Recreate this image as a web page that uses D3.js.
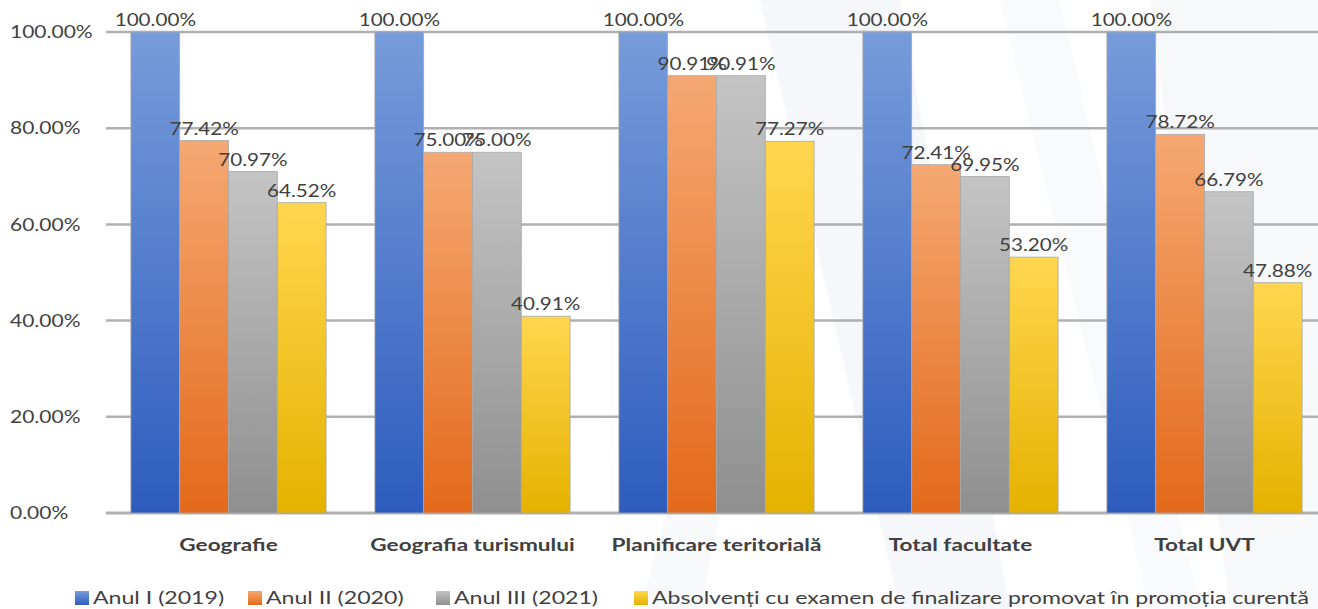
<!DOCTYPE html>
<html><head><meta charset="utf-8">
<script src="https://cdn.jsdelivr.net/npm/d3@7"></script>
<style>
html,body{margin:0;padding:0;background:#fff;}
svg{display:block;font-family:Lato,"Open Sans",sans-serif;}
</style></head>
<body>
<svg id="chart" width="1318" height="609"></svg>
<script>
const categories = ["Geografie","Geografia turismului","Planificare teritorială","Total facultate","Total UVT"];
const seriesNames = ["Anul I (2019)","Anul II (2020)","Anul III (2021)","Absolvenți cu examen de finalizare promovat în promoția curentă"];
const anulI   = [100.00, 100.00, 100.00, 100.00, 100.00];
const anulII  = [77.42, 75.00, 90.91, 72.41, 78.72];
const anulIII = [70.97, 75.00, 90.91, 69.95, 66.79];
const absolventi = [64.52, 40.91, 77.27, 53.20, 47.88];
const yTicks = [0, 20, 40, 60, 80, 100];
const seriesValues = [anulI, anulII, anulIII, absolventi];

const colorsTop = ["#779cdb","#f5a872","#c4c4c4","#ffd64f"];
const colorsBot = ["#2d5cbd","#e3691a","#8f8f8f","#e5b200"];

const svg = d3.select("#chart");
const defs = svg.append("defs");
colorsTop.forEach((c,i)=>{
  const g = defs.append("linearGradient").attr("id","g"+i).attr("x1",0).attr("y1",0).attr("x2",0).attr("y2",1);
  g.append("stop").attr("offset","0%").attr("stop-color",c);
  g.append("stop").attr("offset","100%").attr("stop-color",colorsBot[i]);
});

// faint background watermark shapes
const wm = svg.append("g").attr("opacity",0.5);
wm.append("path").attr("d","M760,0 L900,0 L1010,609 L900,609 Z").attr("fill","#eef1f6");
wm.append("path").attr("d","M1150,0 L1318,0 L1318,609 L1230,609 Z").attr("fill","#f1f3f7");
wm.append("path").attr("d","M640,609 L760,180 L790,180 L700,609 Z").attr("fill","#f3f5f8");
wm.append("path").attr("d","M1000,0 L1060,0 L1200,609 L1150,609 Z").attr("fill","#f4f6f9");

const y = d3.scaleLinear().domain([0,100]).range([513,32]);
const x0 = d3.scaleBand().domain(categories).range([106.5,1326.5]).padding(0);
const x1 = d3.scaleBand().domain(d3.range(4)).range([0,x0.bandwidth()]).paddingInner(0).paddingOuter(0.5);

// helper: stretched text (reference glyphs are horizontally wide)
function stretchText(sel, sx){
  sel.attr("transform", function(){
    const t = d3.select(this);
    return `translate(${t.attr("data-x")},${t.attr("data-y")}) scale(${sx},1)`;
  });
}

// gridlines
svg.append("g").selectAll("line").data(yTicks).join("line")
  .attr("x1",106).attr("x2",1318)
  .attr("y1",d=>y(d)).attr("y2",d=>y(d))
  .attr("stroke","#b0b0b0").attr("stroke-width",d=>d===0?3:2.5);

// y axis labels (left aligned)
const yl = svg.append("g").selectAll("text").data(yTicks).join("text")
  .attr("data-x",10).attr("data-y",d=>y(d))
  .attr("dy","0.35em").attr("font-size",17.5).attr("fill","#404040")
  .text(d=>d.toFixed(2)+"%");
stretchText(yl,1.2);

// bars
const groups = svg.append("g").selectAll("g").data(categories).join("g")
  .attr("transform",d=>`translate(${x0(d)},0)`);
groups.each(function(cat,ci){
  const g = d3.select(this);
  seriesValues.forEach((vals,si)=>{
    g.append("rect")
      .attr("x",x1(si)).attr("width",x1.bandwidth())
      .attr("y",y(vals[ci])).attr("height",y(0)-y(vals[ci]))
      .attr("fill",`url(#g${si})`)
      .attr("stroke","#a8a8a8").attr("stroke-width",0.8);
  });
});
// value labels
groups.each(function(cat,ci){
  const g = d3.select(this);
  seriesValues.forEach((vals,si)=>{
    const t = g.append("text")
      .attr("data-x",x1(si)+x1.bandwidth()/2).attr("data-y",y(vals[ci])-6)
      .attr("text-anchor","middle").attr("font-size",17.5)
      .attr("fill","#404040")
      .text(vals[ci].toFixed(2)+"%");
    stretchText(t,1.18);
  });
});

// x axis category labels
const cl = svg.append("g").selectAll("text").data(categories).join("text")
  .attr("data-x",d=>x0(d)+x0.bandwidth()/2).attr("data-y",551)
  .attr("text-anchor","middle").attr("font-size",17).attr("font-weight","bold")
  .attr("fill","#404040").text(d=>d);
stretchText(cl,1.33);

// legend
const legendX = [75, 248, 436, 634];
const lg = svg.append("g").selectAll("g").data(seriesNames).join("g")
  .attr("transform",(d,i)=>`translate(${legendX[i]},591)`);
lg.append("rect").attr("x",0).attr("y",0).attr("width",14).attr("height",14)
  .attr("fill",(d,i)=>`url(#g${i})`);
const lt = lg.append("text").attr("data-x",18).attr("data-y",13).attr("font-size",17).attr("fill","#404040").text(d=>d);
stretchText(lt,1.36);
</script>
</body></html>
